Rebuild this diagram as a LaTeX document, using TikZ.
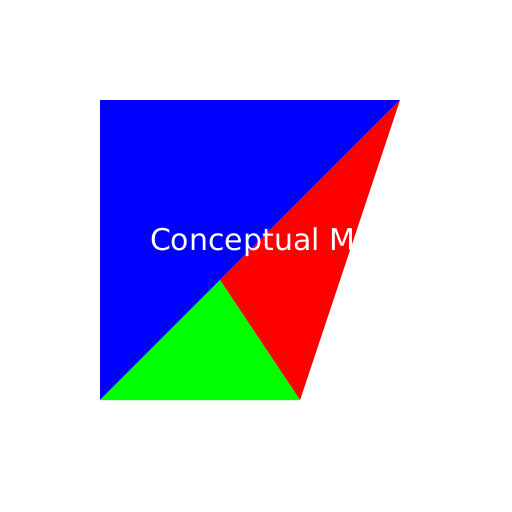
\documentclass[tikz,border=0pt]{standalone}
\usepackage{fontspec}
\setmainfont{DejaVu Sans}
\usepackage{xcolor}
\begin{document}
\begin{tikzpicture}[x=1pt, y=-1pt, every node/.style={inner sep=0pt, outer sep=0pt}]
            \useasboundingbox (0,0) rectangle (512,512);
            % Corners
            \coordinate (tl) at (100,100);
            \coordinate (tr) at (400,100);
            \coordinate (bl) at (100,400);
            \coordinate (br) at (300,400);
            \coordinate (mid) at (220,280);
            % Pieces
            \fill[blue] (tl) -- (tr) -- (bl) -- cycle;
            \fill[red] (tr) -- (br) -- (mid) -- cycle;
            \fill[green] (bl) -- (mid) -- (br) -- cycle;
            % Title
            \node[anchor=base west, white, font=\fontsize{30}{36}\selectfont] (title) at (150,250) {Conceptual Model};
        \end{tikzpicture}
\end{document}
